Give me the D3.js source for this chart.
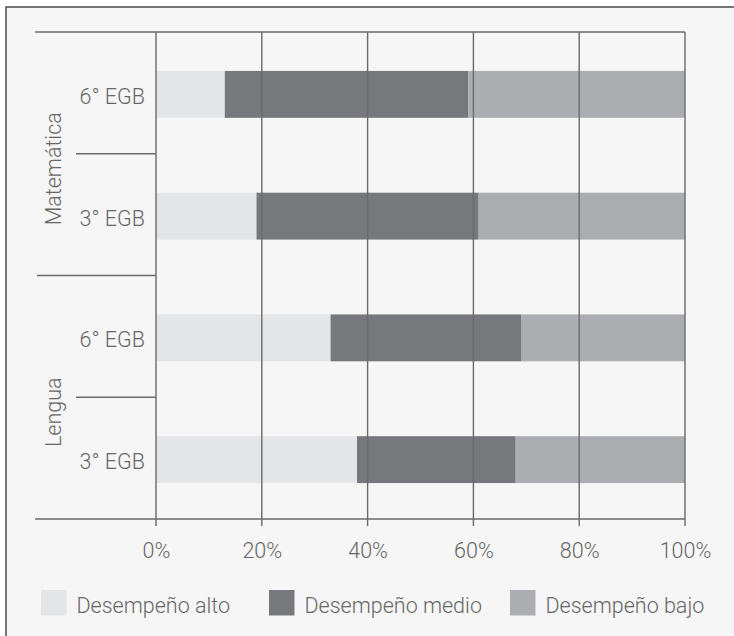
<!DOCTYPE html>
<html>
<head>
<meta charset="utf-8">
<script src="https://cdn.jsdelivr.net/npm/d3@7"></script>
<style>
  html, body { margin: 0; padding: 0; background: #ffffff; }
  svg { display: block; }
  text { font-family: Roboto, "Liberation Sans", Arial, sans-serif; font-weight: 300; fill: #666666; }
</style>
</head>
<body>
<svg id="chart" width="734" height="636"></svg>
<script>
// Subjects and grades (top to bottom)
const subjects = ["Matemática", "Lengua"];
const rows = [
  { subject: "Matemática", grade: "6° EGB" },
  { subject: "Matemática", grade: "3° EGB" },
  { subject: "Lengua", grade: "6° EGB" },
  { subject: "Lengua", grade: "3° EGB" }
];

// Share of students per performance level (%), same row order
const alto  = [13, 19, 33, 38];
const medio = [46, 42, 36, 30];
const bajo  = [41, 39, 31, 32];

const seriesNames = ["Desempeño alto", "Desempeño medio", "Desempeño bajo"];
const seriesColors = ["#e4e5e7", "#77787c", "#acadb0"];
const tickValues = [0, 20, 40, 60, 80, 100];

const svg = d3.select("#chart");
const W = 734, H = 636;
const lineColor = "#6a6a6a";
const fontSize = 21.5;

// Panel background and frame
svg.append("rect").attr("x", 0).attr("y", 0).attr("width", W).attr("height", H).attr("fill", "#ffffff");
svg.append("rect").attr("x", 6).attr("y", 7).attr("width", W + 10).attr("height", H + 10)
  .attr("fill", "#f6f6f6").attr("stroke", "#555555").attr("stroke-width", 1.6);

const plot = { left: 156, right: 685, top: 32, bottom: 519 };

const x = d3.scaleLinear().domain([0, 100]).range([plot.left, plot.right]);
const rowKeys = rows.map((r, i) => i);
const yBand = d3.scaleBand().domain(rowKeys).range([plot.top, plot.bottom]).paddingInner(0).paddingOuter(0);
const barH = yBand.bandwidth() * 0.385;

// Stacked data
const table = rows.map((r, i) => ({ key: i, alto: alto[i], medio: medio[i], bajo: bajo[i] }));
const stacked = d3.stack().keys(["alto", "medio", "bajo"])(table);

// Bars
const gBars = svg.append("g");
stacked.forEach((layer, li) => {
  gBars.selectAll(null).data(layer).enter().append("rect")
    .attr("x", d => x(d[0]))
    .attr("width", d => x(d[1]) - x(d[0]))
    .attr("y", d => yBand(d.data.key) + (yBand.bandwidth() - barH) / 2 + 1.5)
    .attr("height", barH)
    .attr("fill", seriesColors[li]);
});

// Vertical grid lines (drawn over the bars)
svg.append("g").selectAll(null).data(tickValues).enter().append("line")
  .attr("x1", d => x(d)).attr("x2", d => x(d))
  .attr("y1", plot.top).attr("y2", plot.bottom + 7)
  .attr("stroke", lineColor).attr("stroke-width", 1.4);

// Top and bottom rules spanning the label column
[plot.top, plot.bottom].forEach(yy => {
  svg.append("line").attr("x1", 35).attr("x2", plot.right).attr("y1", yy).attr("y2", yy)
    .attr("stroke", lineColor).attr("stroke-width", 1.4);
});

// Separators between grades and between subjects
rowKeys.slice(1).forEach(k => {
  const yy = yBand(k);
  const between = rows[k].subject !== rows[k - 1].subject;
  svg.append("line").attr("x1", between ? 37 : 76).attr("x2", plot.left)
    .attr("y1", yy).attr("y2", yy)
    .attr("stroke", lineColor).attr("stroke-width", 1.4);
});

// Grade labels
svg.append("g").selectAll(null).data(rows).enter().append("text")
  .attr("x", 145)
  .attr("y", (d, i) => yBand(i) + yBand.bandwidth() / 2 + 11)
  .attr("text-anchor", "end")
  .attr("font-size", fontSize)
  .text(d => d.grade);

// Subject labels, rotated
subjects.forEach(s => {
  const idx = rows.map((r, i) => r.subject === s ? i : -1).filter(i => i >= 0);
  const y0 = yBand(idx[0]);
  const y1 = yBand(idx[idx.length - 1]) + yBand.bandwidth();
  const cy = (y0 + y1) / 2 + 15;
  svg.append("text")
    .attr("transform", `translate(61,${cy}) rotate(-90)`)
    .attr("text-anchor", "middle")
    .attr("font-size", fontSize)
    .text(s);
});

// Percent tick labels
const axis = d3.axisBottom(x).tickValues(tickValues).tickFormat(d => d + "%").tickSize(0).tickPadding(0);
const gAxis = svg.append("g").attr("transform", `translate(0,${plot.bottom})`).call(axis);
gAxis.select(".domain").remove();
gAxis.selectAll("text")
  .attr("y", 39)
  .attr("dy", 0)
  .attr("font-size", fontSize)
  .attr("fill", "#666666")
  .style("font-family", "Roboto, Liberation Sans, Arial, sans-serif")
  .style("font-weight", 300);

// Legend
const legendX = [41, 269, 510];
const gLeg = svg.append("g");
seriesNames.forEach((name, i) => {
  gLeg.append("rect").attr("x", legendX[i]).attr("y", 590).attr("width", 25.5).attr("height", 25.5)
    .attr("fill", seriesColors[i]);
  gLeg.append("text").attr("x", legendX[i] + 35.5).attr("y", 613)
    .attr("font-size", fontSize)
    .text(name);
});
</script>
</body>
</html>
